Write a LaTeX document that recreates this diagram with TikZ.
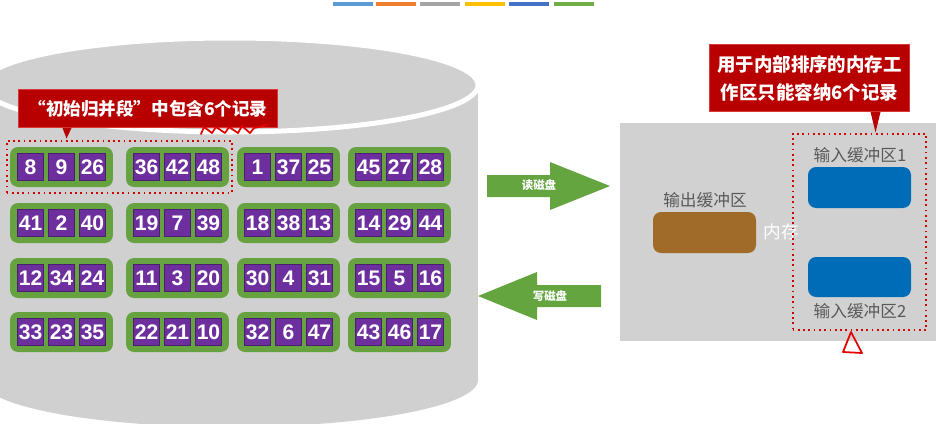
\documentclass[tikz,border=0pt]{standalone}
\usepackage{fontspec}
\setmainfont{Liberation Sans}
\newfontfamily\cjk{Noto Sans CJK SC}
\usetikzlibrary{positioning,calc,fit}
\definecolor{DiskGrey}{HTML}{D0D0D0}
\definecolor{MemGrey}{HTML}{D1D1D1}
\definecolor{GrpGreen}{HTML}{66A340}
\definecolor{RecPurple}{HTML}{6E2F9E}
\definecolor{RecEdge}{HTML}{4B1F70}
\definecolor{ArrGreen}{HTML}{64A540}
\definecolor{CallRed}{HTML}{B80000}
\definecolor{CallEdge}{HTML}{D83A3A}
\definecolor{DotRed}{HTML}{D00000}
\definecolor{OutBrown}{HTML}{A06A28}
\definecolor{InBlue}{HTML}{006BB6}
\definecolor{LblGrey}{HTML}{595959}
\definecolor{BarA}{HTML}{5B9BD5}
\definecolor{BarB}{HTML}{ED7D31}
\definecolor{BarC}{HTML}{A5A5A5}
\definecolor{BarD}{HTML}{FFC000}
\definecolor{BarE}{HTML}{4472C4}
\definecolor{BarF}{HTML}{70AD47}

\begin{document}
\begin{tikzpicture}[x=0.02cm,y=-0.02cm,
    grp/.style={fill=GrpGreen,rounded corners=1.6mm,minimum width=20.6mm,minimum height=8mm,inner sep=0pt},
    rec/.style={fill=RecPurple,draw=RecEdge,line width=0.2mm,minimum width=5.2mm,minimum height=5.4mm,
      inner sep=0pt,text=white,font=\bfseries\fontsize{12}{12}\selectfont},
    buf/.style={rounded corners=1.6mm,minimum width=20.6mm,minimum height=8.2mm,inner sep=0pt},
    tip/.style={fill=CallRed,draw=CallEdge,line width=0.2mm,text=white,align=center,inner sep=0pt},
    dotbox/.style={draw=DotRed,line width=0.35mm,dotted},
    lbl/.style={text=LblGrey,font=\cjk\fontsize{9.5}{11}\selectfont,inner sep=0pt},
    blk/.style={fill=ArrGreen},
    blklbl/.style={text=white,font=\cjk\bfseries\fontsize{6.5}{7}\selectfont,inner sep=0pt},
    scribble/.style={draw=red!90!black,line width=0.35mm,line join=round,line cap=round}]
  \useasboundingbox (0,0) rectangle (936,423);
  \clip (0,0) rectangle (936,423);
  \foreach \bx/\bc in {333/BarA,376/BarB,420/BarC,465/BarD,509/BarE,554/BarF}
    \fill[\bc] (\bx,2) rectangle ++(40,4);

  \fill[DiskGrey] (-18,85) rectangle (478,380);
  \fill[DiskGrey] (230,380) ellipse [x radius=248,y radius=47];
  \filldraw[fill=DiskGrey,draw=white,line width=1mm] (230,85) ellipse [x radius=248,y radius=47];

  \foreach \row/\col/\ka/\kb/\kc in {1/1/8/9/26,1/2/36/42/48,1/3/1/37/25,1/4/45/27/28,
      2/1/41/2/40,2/2/19/7/39,2/3/18/38/13,2/4/14/29/44,
      3/1/12/34/24,3/2/11/3/20,3/3/30/4/31,3/4/15/5/16,
      4/1/33/23/35,4/2/22/21/10,4/3/32/6/47,4/4/43/46/17}{
    \pgfmathsetmacro\gx{{61.5,177.5,288.5,399.5}[\col-1]}
    \pgfmathsetmacro\gy{{167,223,278,332}[\row-1]}
    \node[grp] (g\row\col) at (\gx,\gy) {};
    \node[rec,xshift=-6.2mm] (g\row\col a) at (g\row\col) {\ka};
    \node[rec] (g\row\col b) at (g\row\col) {\kb};
    \node[rec,xshift=6.2mm] (g\row\col c) at (g\row\col) {\kc};
  }
  \node[dotbox,fit=(g11)(g12),inner xsep=0.6mm,inner ysep=1.1mm] (run) {};

  \node[tip,minimum width=52mm,minimum height=7.8mm,font=\cjk\bfseries\fontsize{10}{12}\selectfont]
    (c1) at (148,108.5) {“初始归并段”中包含6个记录};
  \fill[CallRed] ($(c1.south west)+(45,-0.5)$) -- ($(c1.south west)+(49,10)$) -- ($(c1.south west)+(54,-0.5)$) -- cycle;
  \draw[scribble] (201,134) -- (204,127) -- (212,133) -- (216,127) -- (225,133) -- (229,127)
    -- (238,133) -- (242,126) -- (250,133) -- (254,128) -- (267,125);

  \fill[blk] (487,175) -- (550,175) -- (550,162) -- (610,186) -- (550,210) -- (550,197) -- (487,197) -- cycle;
  \node[blklbl] (rd) at (539,185) {读磁盘};
  \fill[blk] (601,285) -- (537,285) -- (537,272) -- (478,296) -- (537,320) -- (537,307) -- (601,307) -- cycle;
  \node[blklbl] (wr) at (550,296) {写磁盘};

  \fill[MemGrey] (620,123) rectangle (940,341);
  \node[buf,fill=OutBrown] (out) at (704.5,232.5) {};
  \node[lbl] (outlbl) at (705,200) {输出缓冲区};
  \node[text=white,font=\cjk\fontsize{10}{12}\selectfont,inner sep=0pt] (mem) at (781,232) {内存};
  \node[buf,fill=InBlue] (in1) at (859.5,187.5) {};
  \node[lbl] (in1lbl) at (860,155) {输入缓冲区1};
  \node[buf,fill=InBlue,minimum height=8mm] (in2) at (859.5,277) {};
  \node[lbl] (in2lbl) at (860,311) {输入缓冲区2};
  \node[dotbox,fit=(in1)(in2),inner xsep=3mm,inner ysep=6.6mm] (work) {};

  \node[tip,minimum width=40.2mm,minimum height=13.6mm,font=\cjk\bfseries\fontsize{10.5}{15.9}\selectfont]
    (c2) at (809.5,78) {用于内部排序的内存工\\作区只能容纳6个记录};
  \fill[CallRed] ($(c2.south west)+(162,-0.5)$) -- ($(c2.south west)+(167,20)$) -- ($(c2.south west)+(172,-0.5)$) -- cycle;
  \draw[scribble] (851,332) -- (843,352) -- (862,353) -- cycle;
\end{tikzpicture}
\end{document}
